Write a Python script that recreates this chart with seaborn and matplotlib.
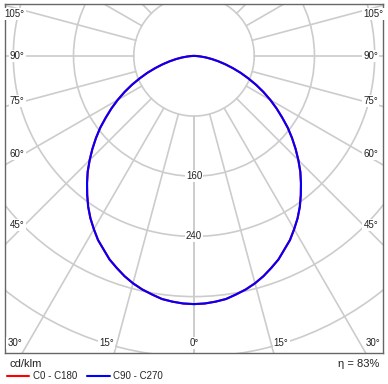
import numpy as np
import pandas as pd
import seaborn as sns
import matplotlib.pyplot as plt

# luminous intensity (cd/klm) vs gamma angle
angles = [0, 2.5, 5, 7.5, 10, 12.5, 15, 17.5, 20, 22.5, 25, 27.5, 30, 32.5, 35, 37.5, 40, 42.5,
          45, 47.5, 50, 52.5, 55, 57.5, 60, 62.5, 65, 67.5, 70, 72.5, 75, 77.5, 80, 82.5, 85, 87.5, 90]
c0_c180 = [330, 329.5, 328, 326, 322, 318, 313, 307, 300, 293, 284, 276, 266, 256, 245, 233, 221, 209,
           196, 183, 170, 157, 143, 130, 117, 104, 91, 78, 66, 54, 43, 33, 24, 16, 8.5, 3, 0]
c90_c270 = [330, 329.5, 328, 326, 322, 318, 313, 307, 300, 293, 284, 276, 266, 256, 245, 233, 221, 209,
            196, 183, 170, 157, 143, 130, 117, 104, 91, 78, 66, 54, 43, 33, 24, 16, 8.5, 3, 0]

ring_values = [80, 160, 240, 320, 400, 480]
ring_labels = [160, 240]
angle_labels = [0, 15, 30, 45, 60, 75, 90, 105]
efficiency = 83

sns.set_style('white')
plt.rcParams['font.family'] = ['Liberation Sans', 'DejaVu Sans']


def to_xy(theta_deg, r):
    t = np.radians(theta_deg)
    return r * np.sin(t), -r * np.cos(t)


rows = []
for plane, vals in [('C0 - C180', c0_c180), ('C90 - C270', c90_c270)]:
    full_ang = [-a for a in angles[::-1]] + angles[1:]
    full_val = vals[::-1] + vals[1:]
    for a, v in zip(full_ang, full_val):
        x, y = to_xy(a, v)
        rows.append({'plane': plane, 'x': x, 'y': y})
df = pd.DataFrame(rows)

fig = plt.figure(figsize=(3.88, 3.84), dpi=100)
ax = fig.add_axes([5 / 388, 31 / 384, 378 / 388, 349 / 384])
xmin, xmax, ymin, ymax = -251, 251, -395, 69

grid_c = '#cccccc'
for r in ring_values:
    ax.add_patch(plt.Circle((0, 0), r, fill=False, color=grid_c, lw=1.2, zorder=1))
for a in range(0, 181, 15):
    for s in (-1, 1):
        x0, y0 = to_xy(s * a, ring_values[0])
        x1, y1 = to_xy(s * a, 800)
        ax.plot([x0, x1], [y0, y1], color=grid_c, lw=1.2, zorder=1)

sns.lineplot(data=df, x='x', y='y', hue='plane', sort=False, estimator=None,
             palette={'C0 - C180': '#ff0000', 'C90 - C270': '#0000ff'},
             lw=1.5, ax=ax, zorder=3, solid_joinstyle='round')

for v in ring_labels:
    ax.text(0, -v, str(v), ha='center', va='center', fontsize=7, color='#222222', zorder=4,
            bbox=dict(facecolor='white', edgecolor='none', pad=0.6))

# angle labels along the frame
bbox = dict(facecolor='white', edgecolor='none', pad=0.8)
side_x = 225
bot_y = -382
for a in angle_labels:
    if a >= 45:
        y = -side_x / np.tan(np.radians(a))
        if a > 90:
            y -= 5
        ax.text(-side_x, y, f'{a}°', ha='right', va='center', fontsize=7, color='#222222', bbox=bbox, zorder=4)
        ax.text(side_x, y, f'{a}°', ha='left', va='center', fontsize=7, color='#222222', bbox=bbox, zorder=4)
    else:
        x = -ymin * np.tan(np.radians(a))
        if a == 0:
            ax.text(0, bot_y, '0°', ha='center', va='center', fontsize=7, color='#222222', bbox=bbox, zorder=4)
        else:
            ax.text(-x, bot_y, f'{a}°', ha='right', va='center', fontsize=7, color='#222222', bbox=bbox, zorder=4)
            ax.text(x, bot_y, f'{a}°', ha='left', va='center', fontsize=7, color='#222222', bbox=bbox, zorder=4)

ax.set_xlim(xmin, xmax)
ax.set_ylim(ymin, ymax)
ax.set_xticks([])
ax.set_yticks([])
ax.set_xlabel('')
ax.set_ylabel('')
for sp in ax.spines.values():
    sp.set_color('#666666')
    sp.set_linewidth(1.0)

ax.legend(loc='center left', bbox_to_anchor=(7 / 388, 1 - 376 / 384), bbox_transform=fig.transFigure,
          ncol=2, frameon=False, fontsize=7, handlelength=2.3, handletextpad=0.4,
          columnspacing=1.0, borderaxespad=0, borderpad=0)
fig.text(9 / 388, 1 - 364 / 384, 'cd/klm', fontsize=8, va='center', color='#222222')
fig.text(379 / 388, 1 - 364 / 384, f'η = {efficiency}%', fontsize=8, va='center', ha='right', color='#222222')

fig.savefig('out.png', dpi=100, facecolor='white')
